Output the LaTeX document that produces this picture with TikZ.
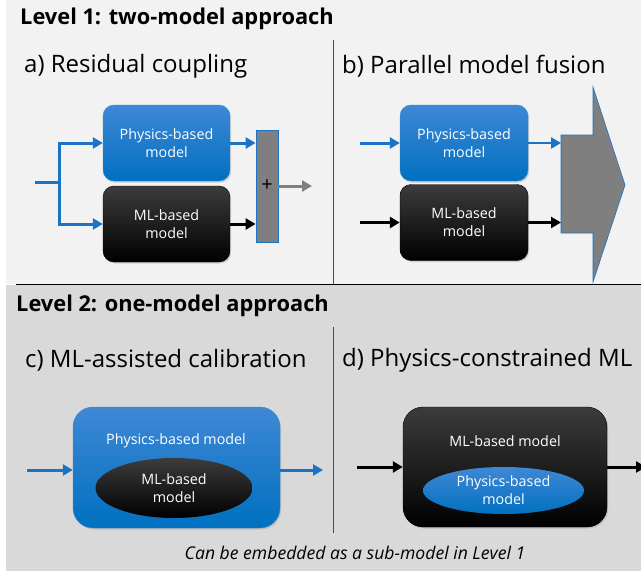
\documentclass[tikz,border=0pt]{standalone}
\usepackage{fontspec}
\setmainfont{Open Sans}
\usetikzlibrary{arrows.meta,shadows,shapes.geometric}
\definecolor{bgA}{HTML}{F2F2F2}
\definecolor{bgB}{HTML}{D9D9D9}
\definecolor{blueT}{HTML}{3F88D5}
\definecolor{blueB}{HTML}{0070C0}
\definecolor{arrBlue}{HTML}{1A73C4}
\definecolor{grayF}{HTML}{7F7F7F}
\definecolor{blackT}{HTML}{3C3C3C}
\tikzset{
  lvl/.style={anchor=west, font=\fontsize{21.8}{26}\selectfont\bfseries, inner sep=0},
  ttl/.style={anchor=west, font=\fontsize{24}{29}\selectfont, inner sep=0},
  boxtxt/.style={text=white, align=center, font=\fontsize{14.3}{18}\selectfont},
  physbox/.style={boxtxt, rounded corners=11pt, top color=blueT, bottom color=blueB,
     draw=blueB!80!white, line width=0.4pt,
     drop shadow={opacity=0.3, shadow xshift=1.2pt, shadow yshift=-1.5pt}},
  mlbox/.style={boxtxt, rounded corners=11pt, top color=blackT, bottom color=black,
     draw=black, line width=0.4pt,
     drop shadow={opacity=0.3, shadow xshift=1.2pt, shadow yshift=-1.5pt}},
  barrow/.style={draw=arrBlue, line width=3pt, -{Triangle[length=10pt,width=11pt]}},
  karrow/.style={draw=black, line width=3pt, -{Triangle[length=10pt,width=11pt]}},
  garrow/.style={draw=grayF, line width=3pt, -{Triangle[length=10pt,width=11pt]}},
}
\begin{document}
\begin{tikzpicture}[x=1pt,y=-1pt]
\useasboundingbox (0,0) rectangle (641,571);
\fill[white] (0,0) rectangle (641,571);
\fill[bgA] (6,0) rectangle (641,284);
\fill[bgB] (6,285) rectangle (641,571);
\draw[black, line width=1pt] (16,284.5) -- (641,284.5);
\draw[black!70, line width=0.9pt] (333,40) -- (333,284);
\draw[black!70, line width=0.9pt] (333,327) -- (333,533);

% titles
\node[lvl] (lv1) at (20,19) {Level 1: two-model approach};
\node[ttl] (ta) at (24,66) {a) Residual coupling};
\node[ttl] (tb) at (342,66) {b) Parallel model fusion};
\node[lvl] (lv2) at (16,306) {Level 2: one-model approach};
\node[ttl] (tc) at (25,360) {c) ML-assisted calibration};
\node[ttl] (td) at (342,360) {d) Physics-constrained ML};
\node[font=\fontsize{17.6}{20}\selectfont\itshape] (note) at (355,553) {Can be embedded as a sub-model in Level 1};

% panel a
\node[physbox, minimum width=127pt, minimum height=76pt] (pa) at (166.5,143) {Physics-based\\model};
\node[mlbox, minimum width=127pt, minimum height=76pt] (ma) at (166.5,224) {ML-based\\model};
\node[fill=grayF, draw=arrBlue, line width=0.8pt, minimum width=22pt, minimum height=112pt, inner sep=0,
      font=\fontsize{20}{22}\selectfont] (plus) at (267,186) {+};
\coordinate (inA) at (35,182);
\coordinate (jA) at (59,182);
\coordinate (outA) at (312,186);
\draw[draw=arrBlue, line width=3pt] (inA) -- (jA);
\draw[barrow] (jA) |- (pa.west);
\draw[barrow] (jA) |- (ma.west);
\draw[barrow] (pa.east) -- (pa.east -| plus.west);
\draw[karrow] (ma.east) -- (ma.east -| plus.west);
\draw[garrow] (plus.east) -- (outA);

% panel b
\node[physbox, minimum width=128pt, minimum height=76pt] (pb) at (464,143) {Physics-based\\model};
\node[mlbox, minimum width=128pt, minimum height=76pt] (mb) at (464,222.5) {ML-based\\model};
\draw[fill=grayF, draw=arrBlue, line width=0.6pt] (561,135) -- (593,135) -- (593,87) -- (625,185)
   -- (593,282) -- (593,233) -- (561,233) -- cycle;
\coordinate (fus) at (561,185);
\coordinate (inB1) at (360,143);
\coordinate (inB2) at (360,222.5);
\draw[barrow] (inB1) -- (pb.west);
\draw[karrow] (inB2) -- (mb.west);
\draw[barrow, line width=2.4pt] (pb.east) -- (pb.east -| fus);
\draw[karrow, line width=2.2pt] (mb.east) -- (mb.east -| fus);

% panel c
\node[physbox, rounded corners=20pt, minimum width=207pt, minimum height=121pt] (pc) at (176.5,467.5) {};
\node[boxtxt] (pcl) at (176,441) {Physics-based model};
\node[ellipse, boxtxt, top color=blackT, bottom color=black, inner sep=0,
      minimum width=157pt, minimum height=60pt] (ec) at (174,488) {ML-based\\model};
\coordinate (inC) at (27,470);
\coordinate (outC) at (323,470);
\draw[barrow] (inC) -- (inC -| pc.west);
\draw[barrow] (pc.east |- outC) -- (outC);

% panel d
\node[mlbox, rounded corners=20pt, minimum width=204pt, minimum height=120pt] (pd) at (505,467) {};
\node[boxtxt] (pdl) at (505,441) {ML-based model};
\node[ellipse, boxtxt, top color=blueT, bottom color=blueB, inner sep=0,
      minimum width=161pt, minimum height=47pt] (ed) at (503.5,490.5) {Physics-based\\model};
\coordinate (inD) at (357,467);
\coordinate (outD) at (646,467);
\draw[karrow] (inD) -- (pd.west);
\draw[karrow] (pd.east) -- (outD);
\end{tikzpicture}
\end{document}
